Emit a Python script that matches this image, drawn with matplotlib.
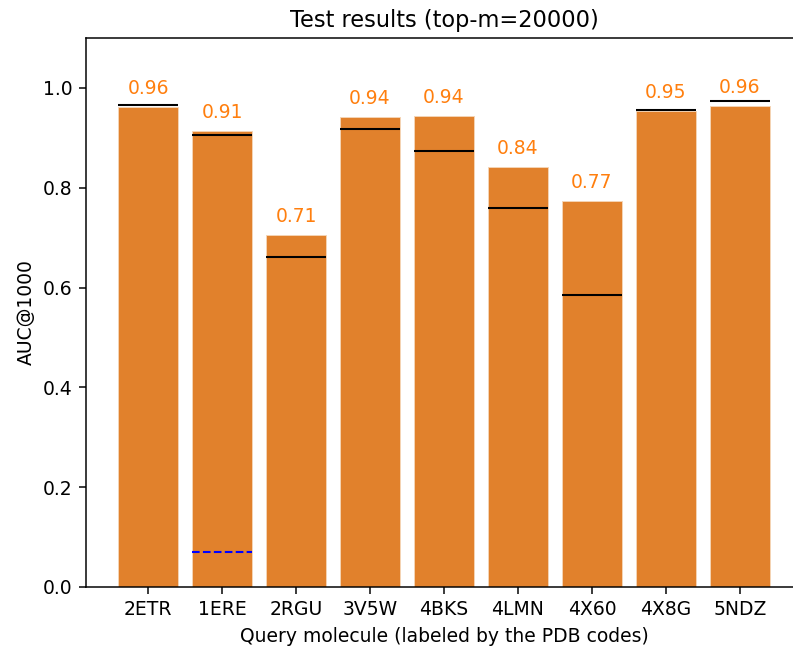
import matplotlib
matplotlib.use('Agg')
import matplotlib.pyplot as plt

# Data
codes = ['2ETR', '1ERE', '2RGU', '3V5W', '4BKS', '4LMN', '4X60', '4X8G', '5NDZ']
auc = [0.961, 0.914, 0.706, 0.942, 0.944, 0.841, 0.774, 0.954, 0.964]
baseline = [0.965, 0.906, 0.661, 0.917, 0.873, 0.759, 0.585, 0.956, 0.973]
dashed_code = '1ERE'
dashed_value = 0.070

dpi = 135
fig = plt.figure(figsize=(793 / dpi, 646 / dpi), dpi=dpi)
ax = fig.add_axes([86 / 793, 59 / 646, 716 / 793, 549 / 646])

x = list(range(len(codes)))
ax.bar(x, auc, width=0.8, color='#e1812c', edgecolor='#f5d5b5', linewidth=0.5)

# Black reference line across each bar
for i, b in enumerate(baseline):
    ax.hlines(b, i - 0.4, i + 0.4, colors='black', linewidth=1.1, zorder=3)

# Blue dashed line on one bar
j = codes.index(dashed_code)
ax.hlines(dashed_value, j - 0.4, j + 0.4, colors='blue', linestyles='--',
          linewidth=1.1, zorder=3)

# Value labels above bars
for i, v in enumerate(auc):
    ax.text(i, v + 0.018, f'{v:.2f}', ha='center', va='bottom',
            color='#ff7f0e', fontsize=10)

ax.set_xticks(x)
ax.set_xticklabels(codes)
ax.set_ylim(0, 1.1)
ax.set_xlim(-0.838, len(codes) - 1 + 0.838)
ax.set_yticks([0.0, 0.2, 0.4, 0.6, 0.8, 1.0])
ax.set_xlabel('Query molecule (labeled by the PDB codes)')
ax.set_ylabel('AUC@1000')
ax.set_title('Test results (top-m=20000)')

fig.savefig('out.png', dpi=dpi)
